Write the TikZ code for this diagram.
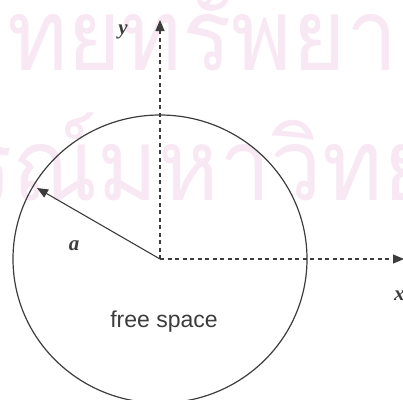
\documentclass[tikz,border=0pt]{standalone}
\usepackage{fontspec}
\setmainfont{Liberation Serif}
\newfontfamily\labelsans{Liberation Sans}
\newfontfamily\thaifont[Script=Thai]{Loma}
\usetikzlibrary{arrows.meta}
\definecolor{wm}{RGB}{248,232,243}
\definecolor{ink}{RGB}{60,60,60}
\tikzset{
  axis/.style={draw=ink, line width=1.1pt, dash pattern=on 4pt off 3.5pt, -{Triangle[length=11pt,width=9pt]}},
  radiusline/.style={draw=ink, line width=1.1pt, -{Triangle[length=11pt,width=9pt]}},
  rim/.style={draw=ink, line width=1.2pt},
  lbl/.style={text=ink, inner sep=0pt, font=\fontsize{21}{21}\selectfont\bfseries\itshape},
  captext/.style={text=ink, inner sep=0pt, font=\labelsans\fontsize{23}{23}\selectfont},
  wmark/.style={text=wm, inner sep=0pt, anchor=base west, xscale=0.92, font=\thaifont\fontsize{100}{100}\selectfont}
}
\begin{document}
\begin{tikzpicture}[x=1pt,y=-1pt]
\useasboundingbox (0,0) rectangle (403,399);
\clip (0,0) rectangle (403,399);
% watermark
\node[wmark] (w1) at (7,70) {ทยทรัพยากร};
\node[wmark] (w2) at (-37,200) {รณ์มหาวิทยาลัย};
% geometry
\coordinate (o) at (160,259);
\draw[rim] (o) ellipse [x radius=147, y radius=144];
\coordinate (ytip) at (160,20);
\coordinate (xtip) at (404,259);
\coordinate (rtip) at (37,188);
\draw[axis] (o) -- (ytip);
\draw[axis] (o) -- (xtip);
\draw[radiusline] (o) -- (rtip);
\node[lbl] (ylab) at (123,32) {y};
\node[lbl] (alab) at (74,246) {a};
\node[lbl, anchor=west] (xlab) at (394,296) {x};
\node[captext] (fs) at (164,322) {free space};
\end{tikzpicture}
\end{document}
